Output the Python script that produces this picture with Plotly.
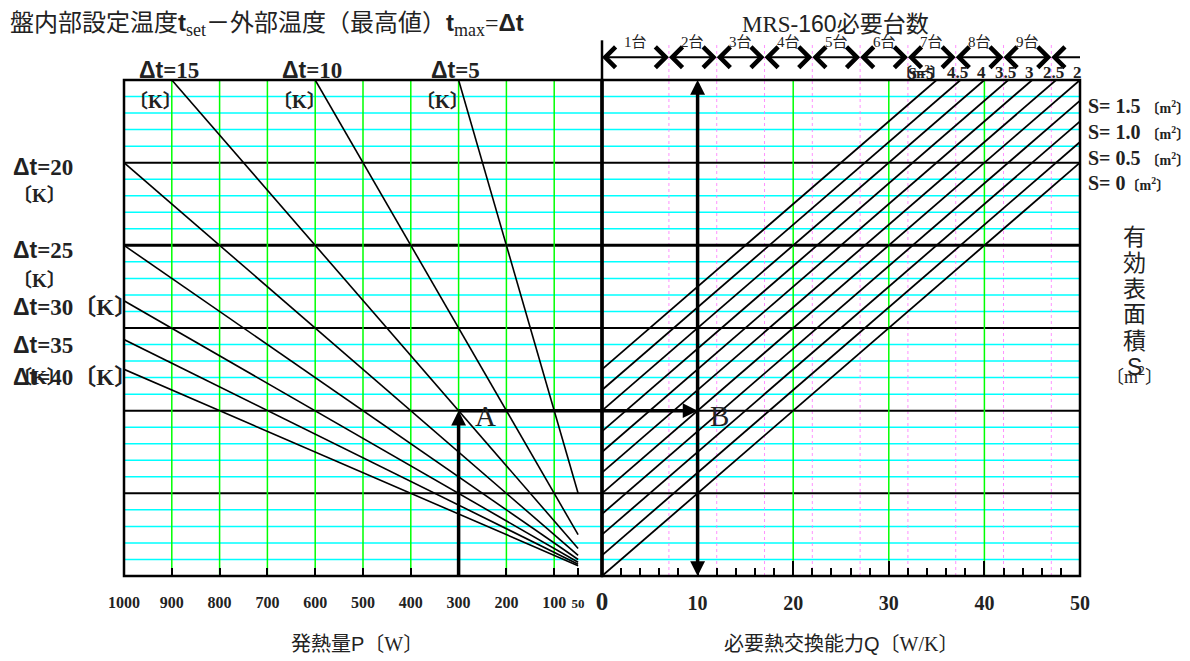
import plotly.graph_objects as go

SERIF = "Liberation Serif"
SANS = "Liberation Sans"
CJK = "Noto Sans CJK JP"

# ---------------- data ----------------
# left panel: heat load P [W] against P/Δt [W/K]; one line per temperature difference
dt_values = [5, 10, 15, 20, 25, 30, 35, 40]
dt_start_p = [300, 600, 900, 1000, 1000, 1000, 1000, 1000]
dt_start_y = [60, 60, 60, 50, 40, 33.3, 28.6, 25]
dt_end_p = [50, 50, 50, 50, 50, 50, 50, 50]
dt_end_y = [10, 5, 3.33, 2.5, 2.0, 1.67, 1.43, 1.25]

# right panel: effective surface area S [m2] lines, required capacity Q [W/K]
s_values = [0, 0.5, 1.0, 1.5, 2.0, 2.5, 3.0, 3.5, 4.0, 4.5, 5.0]
s_start_q = [0, 0, 0, 0, 0, 0, 0, 0, 0, 0, 0]
s_start_y = [0, 2.5, 5, 7.5, 10, 12.5, 15, 17.5, 20, 22.5, 25]
s_end_q = [50, 50, 50, 50, 50, 47.5, 45, 42.5, 40, 37.5, 35]
s_end_y = [50, 52.5, 55, 57.5, 60, 60, 60, 60, 60, 60, 60]
s_side_labels = ["1.5", "1.0", "0.5", "0"]
s_side_label_y = [56.8, 53.7, 50.6, 47.6]
s_top_labels = ["4.5", "4", "3.5", "3", "2.5", "2"]
s_top_label_q = [37.5, 40, 42.5, 45, 47.5, 50]

# MRS-160 unit count ranges along Q
unit_counts = [1, 2, 3, 4, 5, 6, 7, 8, 9]
unit_edges = [0, 7, 12, 17, 22, 27, 32, 37, 42, 47]
q_limit = 50

# axes and grid
p_tick_vals = [1000, 900, 800, 700, 600, 500, 400, 300, 200, 100, 50]
p_tick_text = ["1000", "900", "800", "700", "600", "500", "400", "300", "200", "100", "50"]
q_tick_vals = [0, 10, 20, 30, 40, 50]
q_tick_text = ["0", "10", "20", "30", "40", "50"]
p_grid = [900, 800, 700, 600, 500, 400, 300, 200, 100]
q_grid = [20, 30, 40]
y_major = [10, 20, 30, 40, 50]
y_minor = [2, 4, 6, 8, 12, 14, 16, 18, 22, 24, 26, 28, 32, 34, 36, 38,
           42, 44, 46, 48, 52, 54, 56, 58]
y_max = 60

# worked example: P = 300 W at Δt = 15 K -> 20 W/K -> S = 2 m2 -> Q = 10 W/K
example_p = 300
example_y = 20
example_q = 10

# ---------------- figure ----------------
fig = go.Figure()

for p0, y0, p1, y1 in zip(dt_start_p, dt_start_y, dt_end_p, dt_end_y):
    fig.add_trace(go.Scatter(x=[p0, p1], y=[y0, y1], xaxis="x", yaxis="y",
                             mode="lines", line=dict(color="black", width=1.6),
                             hoverinfo="skip", showlegend=False))

for q0, y0, q1, y1 in zip(s_start_q, s_start_y, s_end_q, s_end_y):
    fig.add_trace(go.Scatter(x=[q0, q1], y=[y0, y1], xaxis="x2", yaxis="y",
                             mode="lines", line=dict(color="black", width=1.8),
                             hoverinfo="skip", showlegend=False))

# shaft of the A -> B arrow inside the left panel
fig.add_trace(go.Scatter(x=[example_p, 0], y=[example_y, example_y], xaxis="x", yaxis="y",
                         mode="lines", line=dict(color="black", width=3.5),
                         hoverinfo="skip", showlegend=False))

shapes = []
for yv in y_minor:
    shapes.append(dict(type="line", xref="paper", x0=0, x1=1, yref="y", y0=yv, y1=yv,
                       layer="below", line=dict(color="#00ffff", width=1.5)))
for pv in p_grid:
    shapes.append(dict(type="line", xref="x", x0=pv, x1=pv, yref="y", y0=0, y1=y_max,
                       layer="below", line=dict(color="#00ff00", width=1.5)))
for qv in q_grid:
    shapes.append(dict(type="line", xref="x2", x0=qv, x1=qv, yref="y", y0=0, y1=y_max,
                       layer="below", line=dict(color="#00ff00", width=1.5)))
for qv in unit_edges[1:]:
    shapes.append(dict(type="line", xref="x2", x0=qv, x1=qv, yref="paper", y0=0, y1=1.075,
                       layer="below", line=dict(color="rgba(255,110,255,0.75)", width=1, dash="dot")))
for yv in y_major:
    shapes.append(dict(type="line", xref="paper", x0=0, x1=1, yref="y", y0=yv, y1=yv,
                       layer="below", line=dict(color="black", width=3 if yv == 40 else 2)))
# panel frames
shapes.append(dict(type="rect", xref="x domain", x0=0, x1=1, yref="y domain", y0=0, y1=1,
                   line=dict(color="black", width=2.5)))
shapes.append(dict(type="rect", xref="x2 domain", x0=0, x1=1, yref="y domain", y0=0, y1=1,
                   line=dict(color="black", width=2.5)))
shapes.append(dict(type="line", xref="x2 domain", x0=0, x1=0, yref="y domain", y0=0, y1=1,
                   line=dict(color="black", width=3.5)))
# start bar of the unit-count ruler
shapes.append(dict(type="line", xref="x2 domain", x0=0, x1=0, yref="paper", y0=1, y1=1.08,
                   line=dict(color="black", width=2.5)))

ann = []


def arrow(x, y, ax, ay, xref, yref, axref, ayref, head=2, width=3.5, size=0.85,
          both=False, color="black"):
    d = dict(text="", x=x, y=y, ax=ax, ay=ay, xref=xref, yref=yref, axref=axref, ayref=ayref,
             showarrow=True, arrowhead=head, arrowwidth=width, arrowsize=size,
             arrowcolor=color, borderpad=0, borderwidth=0, font=dict(size=1),
             standoff=0, startstandoff=0)
    if both:
        d.update(arrowside="end+start", startarrowhead=head, startarrowsize=size)
    return d


# worked example arrows
ann.append(arrow(example_p, example_y, example_p, 0, "x", "y", "x", "y"))
ann.append(arrow(example_q, example_y, 0, example_y, "x2", "y", "x2", "y"))
ann.append(arrow(example_q, 0, example_q, y_max, "x2", "y", "x2", "y", both=True))

# unit-count ruler
ruler_y = 1.046
for i in range(len(unit_counts)):
    ann.append(arrow(unit_edges[i + 1], ruler_y, unit_edges[i], 0, "x2", "paper", "x2", "pixel",
                     head=4, width=2, size=2.0, both=True))
    ann.append(dict(text=f"<span style='font-family:{SERIF}'>{unit_counts[i]}</span>台",
                    x=(unit_edges[i] + unit_edges[i + 1]) / 2, y=1.08, xref="x2", yref="paper",
                    showarrow=False, font=dict(family=CJK, size=15, color="#222"),
                    xanchor="center", yanchor="middle"))
ann.append(arrow(unit_edges[-1], ruler_y, q_limit, 0, "x2", "paper", "x2", "pixel",
                 head=4, width=2, size=2.0))

# titles
SUB = "<sub><span style='font-family:" + SERIF + ";font-size:18px'>{}</span></sub>"
BT = "<b><span style='font-family:" + SANS + "'>{}</span></b>"
ann.append(dict(text=("盤内部設定温度" + BT.format("t") + SUB.format("set")
                      + "－外部温度（最高値）" + BT.format("t") + SUB.format("max")
                      + "<span style='font-family:" + SERIF + "'>=</span>" + BT.format("Δt")),
                x=-0.1213, y=1.117, xref="paper", yref="paper", xanchor="left", yanchor="middle",
                showarrow=False, font=dict(family=CJK, size=24, color="#222")))
ann.append(dict(text=("<span style='font-family:" + SERIF + "'>MRS-</span>"
                      "<span style='font-family:" + SANS + "'>160</span>必要台数"),
                x=0.5, y=1.117, xref="x2 domain", yref="paper", xanchor="center", yanchor="middle",
                xshift=-6, showarrow=False, font=dict(family=CJK, size=23, color="#222")))
ann.append(dict(text=("発熱量<span style='font-family:" + SANS + "'>P</span>"
                      "〔<span style='font-family:" + SERIF + "'>W</span>〕"),
                x=0.5, y=-0.135, xref="x domain", yref="paper", xanchor="center", yanchor="middle",
                xshift=-6, showarrow=False, font=dict(family=CJK, size=20, color="#222")))
ann.append(dict(text=("必要熱交換能力<span style='font-family:" + SANS + "'>Q</span>"
                      "〔<span style='font-family:" + SERIF + "'>W/K</span>〕"),
                x=0.5, y=-0.135, xref="x2 domain", yref="paper", xanchor="center", yanchor="middle",
                xshift=0, showarrow=False, font=dict(family=CJK, size=20, color="#222")))

# vertical right-hand title
for ch, yv in zip(["有", "効", "表", "面", "積"], [41.2, 38.1, 35.0, 31.9, 28.7]):
    ann.append(dict(text=ch, x=1, y=yv, xref="x2 domain", yref="y", xshift=54,
                    xanchor="center", yanchor="middle", showarrow=False,
                    font=dict(family=CJK, size=23, color="#222")))
ann.append(dict(text="S", x=1, y=25.3, xref="x2 domain", yref="y", xshift=54,
                xanchor="center", yanchor="middle", showarrow=False,
                font=dict(family=SANS, size=23, color="#222")))
ann.append(dict(text="〔<span style='font-family:" + SERIF + "'>m</span><sup>2</sup>〕",
                x=1, y=24.4, xref="x2 domain", yref="y", xshift=54,
                xanchor="center", yanchor="middle", showarrow=False,
                font=dict(family=CJK, size=18, color="#222")))

# Δt labels
DT = "<span style='font-family:" + SANS + "'>Δt</span>="
K = "<span style='font-family:" + CJK + "'>〔</span>K<span style='font-family:" + CJK + "'>〕</span>"
lab_font = dict(family=SERIF, size=23, color="#222", weight="bold")
k_font = dict(family=SERIF, size=19, color="#222", weight="bold")
for dt, p0 in zip(dt_values[:3], dt_start_p[:3]):
    ann.append(dict(text=f"{DT}{dt}", x=p0, y=1, xref="x", yref="paper", xshift=-3, yshift=-5,
                    xanchor="center", yanchor="bottom", showarrow=False, font=lab_font))
    ann.append(dict(text=K, x=p0, y=57.6, xref="x", yref="y", xshift=-16,
                    xanchor="center", yanchor="middle", showarrow=False, font=k_font))
side = [("20", 49.5, False), ("25", 39.4, False), ("30", 32.8, True),
        ("35", 27.9, False), ("40", 24.3, True)]
for dt, yv, inline in side:
    ann.append(dict(text=f"{DT}{dt}" + (K if inline else ""), x=0, y=yv, xref="x domain", yref="y",
                    xshift=-113, xanchor="left", yanchor="middle", showarrow=False, font=lab_font))
for yv in [46.3, 36.0, 24.3]:
    ann.append(dict(text=K, x=0, y=yv, xref="x domain", yref="y", xshift=-113,
                    xanchor="left", yanchor="middle", showarrow=False, font=k_font))

# S labels
M2 = ("<span style='font-family:" + CJK + ";font-size:14px'>〔</span>"
      "<span style='font-size:14px'>m<sup>2</sup></span>"
      "<span style='font-family:" + CJK + ";font-size:14px'>〕</span>")
for lab, yv in zip(s_side_labels, s_side_label_y):
    ann.append(dict(text=f"S= {lab}" + (" " if lab != "0" else "") + M2, x=1, y=yv,
                    xref="x2 domain", yref="y", xshift=6, xanchor="left", yanchor="middle",
                    showarrow=False, font=dict(family=SERIF, size=20, color="#222", weight="bold")))
for lab, qv in zip(s_top_labels, s_top_label_q):
    ann.append(dict(text=lab, x=qv, y=1, xref="x2", yref="paper", xshift=-3, yshift=-4,
                    xanchor="center", yanchor="bottom", showarrow=False,
                    font=dict(family=SERIF, size=17, color="#222", weight="bold")))
ann.append(dict(text="S=5", x=s_end_q[-1], y=1, xref="x2", yref="paper", xshift=-16, yshift=-4,
                xanchor="center", yanchor="bottom", showarrow=False,
                font=dict(family=SERIF, size=16, color="#222", weight="bold")))
ann.append(dict(text="〔<span style='font-family:" + SERIF + "'>m<sup>2</sup></span>〕",
                x=s_end_q[-1], y=1, xref="x2", yref="paper", xshift=-16, yshift=-4,
                xanchor="center", yanchor="bottom", showarrow=False,
                font=dict(family=CJK, size=15, color="#222", weight="bold")))

# point labels
ann.append(dict(text="A", x=example_p, y=example_y, xref="x", yref="y", xshift=14, yshift=-5,
                xanchor="left", yanchor="middle", showarrow=False,
                font=dict(family=SERIF, size=29, color="#222")))
ann.append(dict(text="B", x=example_q, y=example_y, xref="x2", yref="y", xshift=10, yshift=-5,
                xanchor="left", yanchor="middle", showarrow=False,
                font=dict(family=SERIF, size=29, color="#222")))

p_ticktext = [t if t != "50" else "<span style='font-size:13px'>50</span>" for t in p_tick_text]
q_ticktext = [t if t != "0" else "<span style='font-size:25px'>0</span>" for t in q_tick_text]

fig.update_layout(
    width=1190, height=661, autosize=False,
    margin=dict(l=124, r=110, t=80, b=85, pad=0),
    paper_bgcolor="white", plot_bgcolor="white",
    showlegend=False,
    xaxis=dict(domain=[0, 0.5], range=[1000, 0], anchor="y", showgrid=False, zeroline=False,
               showline=False, tickmode="array", tickvals=p_tick_vals, ticktext=p_ticktext,
               ticks="inside", ticklen=8, tickwidth=2, tickcolor="black",
               ticklabelstandoff=15,
               tickfont=dict(family=SERIF, size=16, color="#222", weight="bold")),
    xaxis2=dict(domain=[0.5, 1], range=[0, q_limit], anchor="y", showgrid=False, zeroline=False,
                showline=False, tickmode="array", tickvals=q_tick_vals, ticktext=q_ticktext,
                ticks="inside", ticklen=15, tickwidth=2, tickcolor="black",
                ticklabelstandoff=13,
                minor=dict(ticks="inside", ticklen=8, tickwidth=2, tickcolor="black",
                           tickmode="linear", tick0=0, dtick=2, showgrid=False),
                tickfont=dict(family=SERIF, size=20, color="#222", weight="bold")),
    yaxis=dict(domain=[0, 1], range=[0, y_max], anchor="x", visible=False),
    shapes=shapes,
    annotations=ann,
)

fig.write_html("out.html")
